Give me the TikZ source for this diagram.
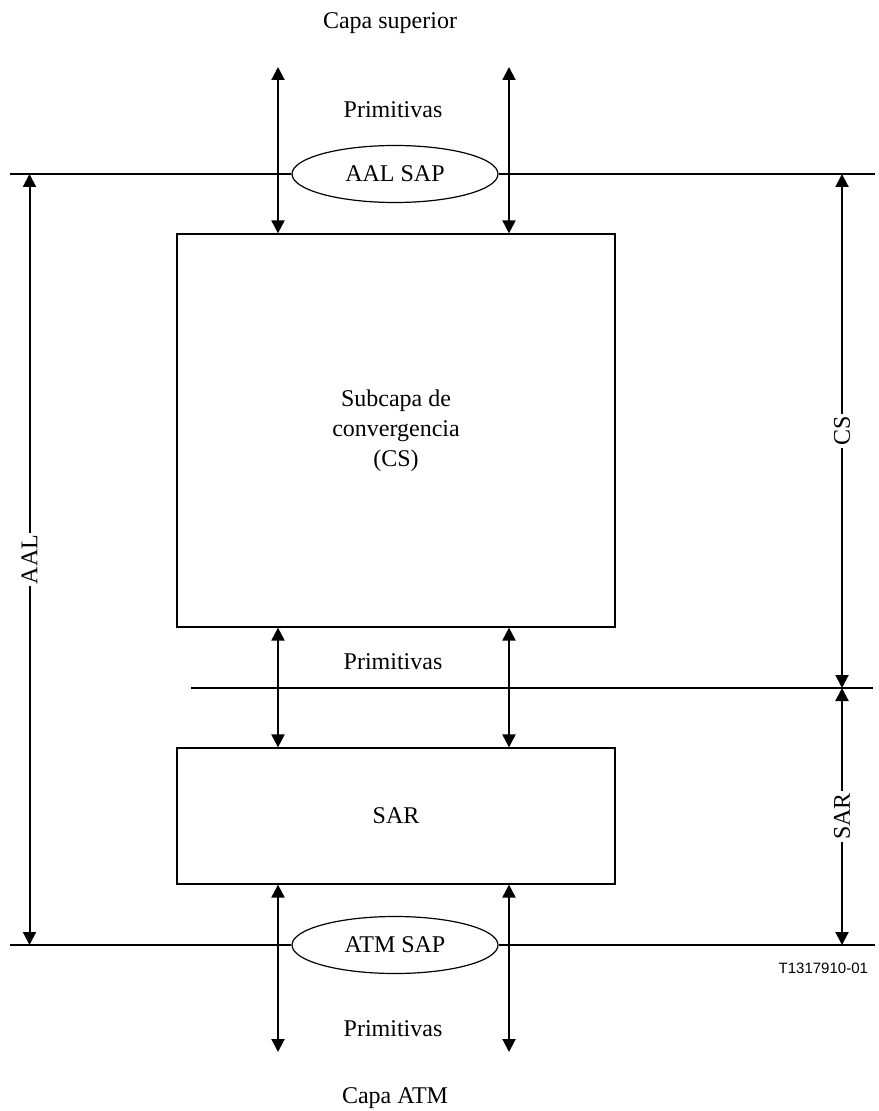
\documentclass[tikz,border=0pt]{standalone}
\usepackage{fontspec}
\setmainfont{Liberation Serif}
\newfontfamily\refSans{Liberation Sans}
\usetikzlibrary{arrows.meta, positioning, shapes.geometric}

\tikzset{
  plainText/.style={font=\fontsize{12}{15}\selectfont},
  layerBox/.style={draw, line width=0.6pt, align=center, plainText},
  sapEllipse/.style={ellipse, draw, line width=0.6pt, fill=white,
    minimum width=103pt, minimum height=28.5pt, inner sep=0pt, plainText},
  layerLine/.style={line width=1pt},
  dblArrow/.style={{Triangle[length=6.5pt,width=6.5pt]}-{Triangle[length=6.5pt,width=6.5pt]},
    line width=1pt},
  dimLabel/.style={fill=white, inner sep=1pt, rotate=90, plainText}
}

\begin{document}
\begin{tikzpicture}[x=0.5pt, y=-0.5pt]
  \useasboundingbox (0,0) rectangle (878,1111);

  % Layer boundaries
  \coordinate (topL) at (10,174);
  \coordinate (topR) at (875,174);
  \coordinate (midL) at (191,688);
  \coordinate (midR) at (873,688);
  \coordinate (botL) at (10,945);
  \coordinate (botR) at (875,945);

  % Service access points
  \node[sapEllipse] (aalsap) at (395,174) {AAL SAP};
  \node[sapEllipse] (atmsap) at (395,945) {ATM SAP};
  \draw[layerLine] (topL) -- (aalsap.west);
  \draw[layerLine] (aalsap.east) -- (topR);
  \draw[layerLine] (midL) -- (midR);
  \draw[layerLine] (botL) -- (atmsap.west);
  \draw[layerLine] (atmsap.east) -- (botR);

  % Sublayers
  \node[layerBox, minimum width=219pt, minimum height=196.5pt] (cs) at (396,430.5)
    {Subcapa de\\convergencia\\(CS)};
  \node[layerBox, minimum width=219pt, minimum height=68pt] (sar) at (396,816) {SAR};

  % Primitives between layers
  \coordinate (upL) at (278,67);
  \coordinate (upR) at (509,67);
  \coordinate (downL) at (278,1052);
  \coordinate (downR) at (509,1052);
  \draw[dblArrow] (upL) -- (upL |- cs.north);
  \draw[dblArrow] (upR) -- (upR |- cs.north);
  \draw[dblArrow] (upL |- cs.south) -- (upL |- sar.north);
  \draw[dblArrow] (upR |- cs.south) -- (upR |- sar.north);
  \draw[dblArrow] (downL |- sar.south) -- (downL);
  \draw[dblArrow] (downR |- sar.south) -- (downR);

  % Texts
  \node[plainText] (capasup) at (390,23) {Capa superior};
  \node[plainText] (primsup) at (393,110) {Primitivas};
  \node[plainText] (primmid) at (393,662) {Primitivas};
  \node[plainText] (priminf) at (393,1029) {Primitivas};
  \node[plainText] (capaatm) at (395,1098) {Capa ATM};
  \node[font=\refSans\fontsize{7.5}{9}\selectfont, anchor=east] (figref) at (875,968)
    {T1317910-01};

  % Extent of AAL and its sublayers
  \coordinate (dimL) at (29.5,0);
  \coordinate (dimR) at (842,0);
  \draw[dblArrow] (dimL |- topL) -- node[dimLabel] {AAL} (dimL |- botL);
  \draw[dblArrow] (dimR |- topR) -- node[dimLabel] {CS} (dimR |- midR);
  \draw[dblArrow] (dimR |- midR) -- node[dimLabel] {SAR} (dimR |- botR);
\end{tikzpicture}
\end{document}
